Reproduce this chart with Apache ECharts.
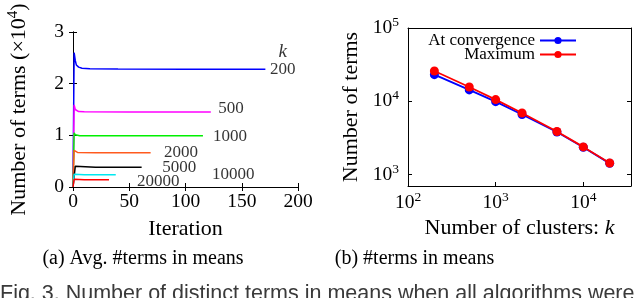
<!DOCTYPE html>
<html><head><meta charset="utf-8">
<script src="https://cdn.jsdelivr.net/npm/echarts@6/dist/echarts.min.js"></script>
<style>html,body{margin:0;padding:0;background:#fff}#c{width:640px;height:298px}</style>
</head><body><div id="c"></div>
<script>
// ---- Panel (a): average #terms in means vs iteration (x10^4) ----
const kLabels = ['200','500','1000','2000','5000','10000','20000'];
const iter200 = [0, 1, 2, 3, 5, 8, 15, 40, 100, 171];
const terms200 = [0, 2.60, 2.45, 2.36, 2.32, 2.30, 2.29, 2.285, 2.28, 2.28];
const iter500 = [0, 1, 2, 3, 5, 10, 50, 122.5];
const terms500 = [0, 1.59, 1.50, 1.47, 1.46, 1.455, 1.45, 1.45];
const iter1000 = [0, 1, 2, 3, 6, 40, 115.5];
const terms1000 = [0, 1.05, 1.01, 0.995, 0.99, 0.99, 0.99];
const iter2000 = [0, 1, 2, 4, 20, 69];
const terms2000 = [0, 0.71, 0.68, 0.67, 0.665, 0.665];
const iter5000 = [0, 2, 3, 20, 61];
const terms5000 = [0, 0.40, 0.385, 0.382, 0.382];
const iter10000 = [0, 1, 2, 10, 38];
const terms10000 = [0, 0.245, 0.237, 0.236, 0.236];
const iter20000 = [0, 1, 2, 10, 32];
const terms20000 = [0, 0.15, 0.143, 0.1425, 0.1425];
// annotation anchors (data coords) for k labels in panel (a)
const annotX = [186.4, 140.4, 139.6, 96, 94.5, 142.5, 75.8];
const annotY = [2.28, 1.51, 0.97, 0.66, 0.37, 0.25, 0.10];
const kHeaderPos = [186.4, 2.62];

// ---- Panel (b): #terms in means vs k (log-log) ----
const clusters = [200, 500, 1000, 2000, 5000, 10000, 20000];
const atConvergence = [23100, 14300, 9900, 6600, 3820, 2360, 1425];
const maximum = [25900, 15700, 10550, 6920, 3870, 2390, 1440];

// ---- Text ----
const captionA = '(a) Avg. #terms in means';
const captionB = '(b) #terms in means';
const figCaption = 'Fig. 3. Number of distinct terms in means when all algorithms were';

const curveColors = ['#0000ff', '#ff00ff', '#00f000', '#ff5a1e', '#000000', '#00e8f0', '#ff0000'];
const curveIters = [iter200, iter500, iter1000, iter2000, iter5000, iter10000, iter20000];
const curveTerms = [terms200, terms500, terms1000, terms2000, terms5000, terms10000, terms20000];

const SERIF = '"Liberation Serif", "DejaVu Serif", serif';
const zip = (a, b) => a.map((v, i) => [v, b[i]]);

const chart = echarts.init(document.getElementById('c'), null, {renderer: 'canvas'});

const tickLbl = {fontFamily: SERIF, fontSize: 19.5, color: '#000'};
const logFmt = function (v) {
  const e = Math.round(Math.log10(v));
  if (Math.abs(Math.log10(v) - e) > 1e-6) return '';
  return '{b|10}{s|' + e + '}';
};
const logRich = {
  b: {fontFamily: SERIF, fontSize: 19.5, color: '#000'},
  s: {fontFamily: SERIF, fontSize: 13.5, color: '#000', padding: [0, 0, 11, 0]}
};
const lineAx = {show: true, lineStyle: {color: '#000', width: 1}};
const tickIn = {show: true, inside: true, length: 4, lineStyle: {color: '#000'}};

const series = [];
curveIters.forEach((it, i) => {
  series.push({
    type: 'line', xAxisIndex: 0, yAxisIndex: 0, showSymbol: false, silent: true,
    data: zip(it, curveTerms[i]), lineStyle: {color: curveColors[i], width: 1.5},
    itemStyle: {color: curveColors[i]}, z: 3
  });
});
series.push({
  type: 'scatter', xAxisIndex: 0, yAxisIndex: 0, symbolSize: 0, silent: true,
  data: annotX.map((x, i) => [x, annotY[i], kLabels[i]]).concat([[kHeaderPos[0], kHeaderPos[1], 'k']]),
  label: {
    show: true, position: 'inside',
    formatter: p => p.data[2] === 'k' ? '{i|k}' : p.data[2],
    fontFamily: SERIF, fontSize: 17, color: '#000',
    rich: {i: {fontFamily: SERIF, fontSize: 19, fontStyle: 'italic', color: '#000'}}
  }
});
series.push({
  name: 'At convergence', type: 'line', xAxisIndex: 2, yAxisIndex: 2,
  data: zip(clusters, atConvergence), symbol: 'circle', symbolSize: 9,
  lineStyle: {color: '#0000ff', width: 1.8}, itemStyle: {color: '#0000ff'}, z: 3
});
series.push({
  name: 'Maximum', type: 'line', xAxisIndex: 2, yAxisIndex: 2,
  data: zip(clusters, maximum), symbol: 'circle', symbolSize: 9,
  lineStyle: {color: '#ff0000', width: 1.8}, itemStyle: {color: '#ff0000'}, z: 4
});

const option = {
  animation: false,
  backgroundColor: '#fff',
  grid: [
    {left: 73, top: 32, width: 225, height: 155},
    {left: 408, top: 28, width: 223, height: 158}
  ],
  legend: {
    data: ['At convergence', 'Maximum'], orient: 'vertical', align: 'right',
    right: 63, top: 32, itemGap: -3, itemWidth: 36, itemHeight: 9, padding: 0,
    textStyle: {fontFamily: SERIF, fontSize: 17, color: '#000'}
  },
  xAxis: [
    {gridIndex: 0, type: 'value', min: 0, max: 200, interval: 50, position: 'bottom',
      axisLine: lineAx, axisTick: tickIn, splitLine: {show: false},
      axisLabel: Object.assign({margin: 5}, tickLbl),
      name: 'Iteration', nameLocation: 'middle', nameGap: 31,
      nameTextStyle: {fontFamily: SERIF, fontSize: 22, color: '#000'}},
    {gridIndex: 0, type: 'value', min: 0, max: 200, interval: 50, position: 'top',
      axisLine: lineAx, axisTick: tickIn, splitLine: {show: false}, axisLabel: {show: false}},
    {gridIndex: 1, type: 'log', logBase: 10, min: 100, max: 35000, position: 'bottom',
      axisLine: lineAx, axisTick: tickIn, splitLine: {show: false}, minorTick: {show: false},
      axisLabel: {margin: 4, formatter: logFmt, rich: logRich},
      name: '{n|Number of clusters: }{i|k}', nameLocation: 'middle', nameGap: 25,
      nameTextStyle: {rich: {n: {fontFamily: SERIF, fontSize: 22, color: '#000'},
        i: {fontFamily: SERIF, fontSize: 22, fontStyle: 'italic', color: '#000'}}}},
    {gridIndex: 1, type: 'log', logBase: 10, min: 100, max: 35000, position: 'top',
      axisLine: lineAx, axisTick: {show: false}, splitLine: {show: false}, axisLabel: {show: false}}
  ],
  yAxis: [
    {gridIndex: 0, type: 'value', min: 0, max: 3, interval: 1, position: 'left',
      axisLine: lineAx, axisTick: tickIn, splitLine: {show: false},
      axisLabel: Object.assign({margin: 9}, tickLbl),
      name: '{n|Number of terms (×10}{s|4}{n|)}', nameLocation: 'middle', nameGap: 40, nameRotate: 90,
      nameTextStyle: {rich: {n: {fontFamily: SERIF, fontSize: 22, color: '#000'},
        s: {fontFamily: SERIF, fontSize: 15, color: '#000', padding: [0, 0, 12, 0]}}}},
    {gridIndex: 0, type: 'value', min: 0, max: 3, interval: 1, position: 'right',
      axisLine: lineAx, axisTick: tickIn, splitLine: {show: false}, axisLabel: {show: false}},
    {gridIndex: 1, type: 'log', logBase: 10, min: 700, max: 100000, position: 'left',
      axisLine: lineAx, axisTick: tickIn, splitLine: {show: false}, minorTick: {show: false},
      axisLabel: {margin: 9, formatter: logFmt, rich: logRich},
      name: 'Number of terms', nameLocation: 'middle', nameGap: 46, nameRotate: 90,
      nameTextStyle: {fontFamily: SERIF, fontSize: 22, color: '#000'}},
    {gridIndex: 1, type: 'log', logBase: 10, min: 700, max: 100000, position: 'right',
      axisLine: lineAx, axisTick: tickIn, splitLine: {show: false}, axisLabel: {show: false}}
  ],
  graphic: [
    {type: 'text', x: 143, y: 259, style: {text: captionA, font: '20px ' + SERIF, fill: '#000',
      textAlign: 'center', textVerticalAlign: 'middle'}},
    {type: 'text', x: 414.5, y: 259, style: {text: captionB, font: '20px ' + SERIF, fill: '#000',
      textAlign: 'center', textVerticalAlign: 'middle'}},
    {type: 'text', x: 0, y: 283, style: {text: figCaption, font: '21.5px "Liberation Sans", Arial, sans-serif',
      fill: '#3a3a3a', textAlign: 'left', textVerticalAlign: 'top'}}
  ],
  series: series
};
chart.setOption(option);
</script></body></html>
